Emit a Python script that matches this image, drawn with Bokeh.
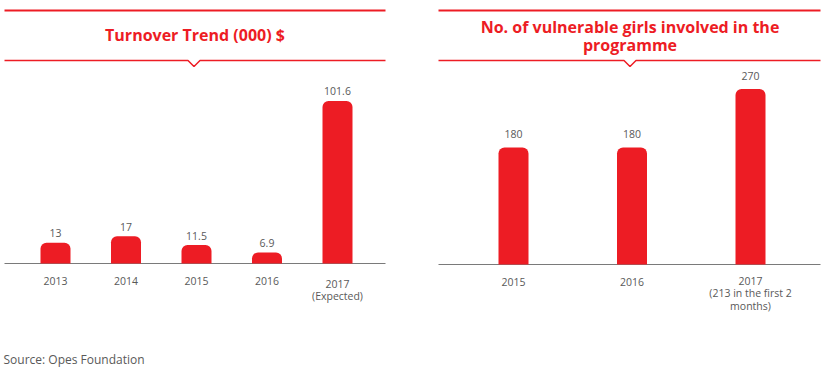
from bokeh.plotting import figure
from bokeh.models import Range1d, ColumnDataSource
from bokeh.core.properties import value
from bokeh.embed import file_html
from bokeh.resources import INLINE

# ---------------- data ----------------
turnover_years = ["2013", "2014", "2015", "2016", "2017\n(Expected)"]
turnover_values = [13, 17, 11.5, 6.9, 101.6]
turnover_labels = ["13", "17", "11.5", "6.9", "101.6"]

girls_years = ["2015", "2016", "2017\n(213 in the first 2\nmonths)"]
girls_values = [180, 180, 270]
girls_labels = ["180", "180", "270"]

title_left = "Turnover Trend (000) $"
title_right = ["No. of vulnerable girls involved in the", "programme"]
source_text = "Source: Opes Foundation"

# ---------------- layout constants (pixels) ----------------
W, H = 834, 377
RED = "#ED1C24"
GREY_TXT = "#595959"
AXIS_GREY = "#7a7a7a"
FONT = value("Open Sans")
BAR_PX = 30
BASELINE_FIX = 6.5   # bokeh places 'alphabetic' text a bit low

# left panel
L_X0, L_DX = 55.0, 70.5      # px centre of first bar, px spacing
L_BASE, L_SY = 263.0, 1.6    # px of baseline, px per unit
L_PANEL = (4, 385)
# right panel
R_X0, R_DX = 513.0, 118.5
R_BASE, R_SY = 264.0, 0.65
R_PANEL = (438, 820)

p = figure(width=W, height=H, x_range=Range1d(0, W), y_range=Range1d(H, 0),
           x_axis_type=None, y_axis_type=None, toolbar_location=None,
           output_backend="svg", min_border=0)
p.outline_line_color = None
p.background_fill_color = "white"
p.border_fill_color = "white"

p.extra_x_ranges = {
    "lx": Range1d(-L_X0 / L_DX, (W - L_X0) / L_DX),
    "rx": Range1d(-R_X0 / R_DX, (W - R_X0) / R_DX),
}
p.extra_y_ranges = {
    "ly": Range1d(-(H - L_BASE) / L_SY, L_BASE / L_SY),
    "ry": Range1d(-(H - R_BASE) / R_SY, R_BASE / R_SY),
}


def header(x0, x1, cx):
    p.line([x0, x1], [10, 10], line_color=RED, line_width=2.2)
    p.line([x0, cx - 6, cx, cx + 6, x1], [60, 60, 66, 60, 60],
           line_color=RED, line_width=1.5)


header(L_PANEL[0], L_PANEL[1], 193.5)
header(R_PANEL[0], R_PANEL[1], 629.5)

# titles
p.text(x=[194.5], y=[40.5 - BASELINE_FIX], text=[title_left], text_font=FONT,
       text_font_style="bold", text_font_size="16px", text_color=RED,
       text_align="center", text_baseline="alphabetic")
p.text(x=[629.5, 629.5], y=[32.5 - BASELINE_FIX, 50.5 - BASELINE_FIX], text=title_right,
       text_font=FONT, text_font_style="bold", text_font_size="16px", text_color=RED,
       text_align="center", text_baseline="alphabetic")

# baselines
p.line([L_PANEL[0], L_PANEL[1]], [L_BASE, L_BASE], line_color=AXIS_GREY, line_width=1)
p.line([R_PANEL[0], R_PANEL[1]], [R_BASE, R_BASE], line_color=AXIS_GREY, line_width=1)


def panel(cats, vals, labels, xr, yr, dx, gap, top_off, shift_per_line):
    idx = list(range(len(cats)))
    src = ColumnDataSource(dict(x=idx, top=vals, lab=labels, cat=cats,
                                zero=[0] * len(cats),
                                yoff=[top_off - shift_per_line * c.count("\n") for c in cats]))
    p.vbar(x="x", top="top", bottom=0, width=BAR_PX / dx, source=src,
           fill_color=RED, line_color=None, border_radius=(6, 6, 0, 0),
           x_range_name=xr, y_range_name=yr)
    p.text(x="x", y="top", text="lab", source=src, y_offset=-(gap + BASELINE_FIX),
           text_font=FONT, text_font_size="10.5px", text_color=GREY_TXT,
           text_align="center", text_baseline="alphabetic",
           x_range_name=xr, y_range_name=yr)
    p.text(x="x", y="zero", text="cat", source=src, y_offset="yoff",
           text_font=FONT, text_font_size="10.5px", text_color=GREY_TXT,
           text_align="center", text_baseline="top", text_line_height=0.9,
           x_range_name=xr, y_range_name=yr)


panel(turnover_years, turnover_values, turnover_labels, "lx", "ly", L_DX, 3, 13, 0)
panel(girls_years, girls_values, girls_labels, "rx", "ry", R_DX, 7, 13, 2)

p.text(x=[3], y=[365 - BASELINE_FIX], text=[source_text], text_font=FONT,
       text_font_size="12px", text_color=GREY_TXT, text_align="left",
       text_baseline="alphabetic")

open("out.html", "w").write(file_html(p, INLINE))
